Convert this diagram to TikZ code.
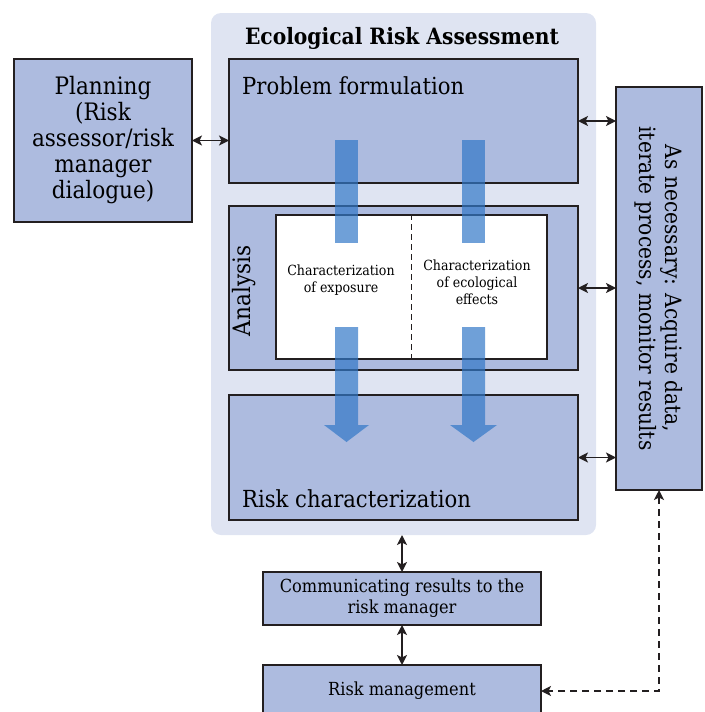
\documentclass[tikz,border=0pt]{standalone}
\usepackage{fontspec}
\setmainfont{DejaVu Serif Condensed}
\usepackage{xcolor}
\usetikzlibrary{positioning, arrows.meta}
\definecolor{boxfill}{RGB}{173,187,223}
\definecolor{panel}{RGB}{223,228,242}
\definecolor{edge}{RGB}{35,31,32}
\definecolor{flow}{RGB}{50,120,200}

\begin{document}
\begin{tikzpicture}[x=1pt, y=-1pt,
    panelbox/.style={rectangle, fill=panel, rounded corners=10pt, inner sep=0pt, outer sep=0pt},
    stage/.style={rectangle, draw=edge, line width=1.6pt, fill=boxfill, minimum width=349pt, inner sep=0pt, outer sep=0pt},
    sidebox/.style={rectangle, draw=edge, line width=1.6pt, fill=boxfill, align=center, inner sep=0pt, outer sep=0pt},
    heading/.style={font=\fontsize{23.5}{28}\selectfont, anchor=base west, inner sep=0pt},
    small/.style={font=\fontsize{14}{17}\selectfont, align=center},
    link/.style={{Stealth[length=10pt,width=10pt,inset=2.5pt]}-{Stealth[length=10pt,width=10pt,inset=2.5pt]}, line width=1.6pt, draw=edge},
    flowbar/.style={fill=flow, fill opacity=0.7, draw=none}
]
\useasboundingbox (0,0) rectangle (704,712);
\clip (0,0) rectangle (704,712);

% ========== PANEL ==========
\node[panelbox, minimum width=385pt, minimum height=522pt, anchor=north west] (era) at (211,13) {};
\node[font=\bfseries\fontsize{22.5}{26}\selectfont] (title) at (402,38) {Ecological Risk Assessment};

% Fases dentro del panel
\node[stage, minimum height=124pt, anchor=north west] (pf) at (229,59) {};
\node[stage, minimum height=164pt, below=23pt of pf] (ana) {};
\node[stage, minimum height=125pt, below=25pt of ana] (rc) {};

% Caja blanca del analisis
\node[rectangle, draw=edge, line width=1.6pt, fill=white, minimum width=271pt, minimum height=144pt, inner sep=0pt, anchor=north west] (inner) at (275,214) {};
\draw[edge, line width=1.4pt, dash pattern=on 6pt off 4pt] (inner.north) -- (inner.south);

\node[heading] (pftext) at (242,94) {Problem formulation};
\node[heading] (rctext) at (242,507) {Risk characterization};
\node[font=\fontsize{24}{28}\selectfont, rotate=90] (anatext) at (244,291) {Analysis};
\node[small] (expo) at (341,280) {Characterization\\of exposure};
\node[small] (effe) at (477,282) {Characterization\\of ecological\\effects};

% ========== FLECHAS AZULES ==========
\fill[flowbar] (335,140) rectangle (358,243);
\fill[flowbar] (462,140) rectangle (485,243);
\fill[flowbar] (335,327) -- (358,327) -- (358,425) -- (369,425) -- (346.5,442) -- (324,425) -- (335,425) -- cycle;
\fill[flowbar] (462,327) -- (485,327) -- (485,425) -- (497,425) -- (473.5,442) -- (450,425) -- (462,425) -- cycle;

% ========== CAJAS LATERALES ==========
\node[sidebox, minimum width=178pt, minimum height=163pt, font=\fontsize{24}{26}\selectfont, anchor=north west] (plan) at (14,59) {Planning\\(Risk\\assessor/risk\\manager\\dialogue)};
\node[sidebox, minimum width=86pt, minimum height=403pt, anchor=north west] (iter) at (616,87) {};
\node[font=\fontsize{22.5}{26}\selectfont, align=center, rotate=-90] (itertext) at (iter.center) {As necessary: Acquire data,\\iterate process, monitor results};

% Cajas de abajo
\node[sidebox, minimum width=278pt, minimum height=53pt, font=\fontsize{18}{21}\selectfont, anchor=north west] (comm) at (263,572) {Communicating results to the\\risk manager};
\node[sidebox, minimum width=278pt, minimum height=52pt, font=\fontsize{18}{21}\selectfont, below=40pt of comm] (rm) {Risk management};

% ========== FLECHAS ==========
\draw[link] (plan.east) -- (plan.east -| pf.west);
\draw[link] (pf.east) -- (pf.east -| iter.west);
\draw[link] (ana.east) -- (ana.east -| iter.west);
\draw[link] (rc.east) -- (rc.east -| iter.west);
\draw[link] (comm.north |- era.south) -- (comm.north);
\draw[link] (comm.south) -- (rm.north);
\draw[link, dash pattern=on 7pt off 5pt] (iter.south) |- (rm.east);

\end{tikzpicture}
\end{document}
